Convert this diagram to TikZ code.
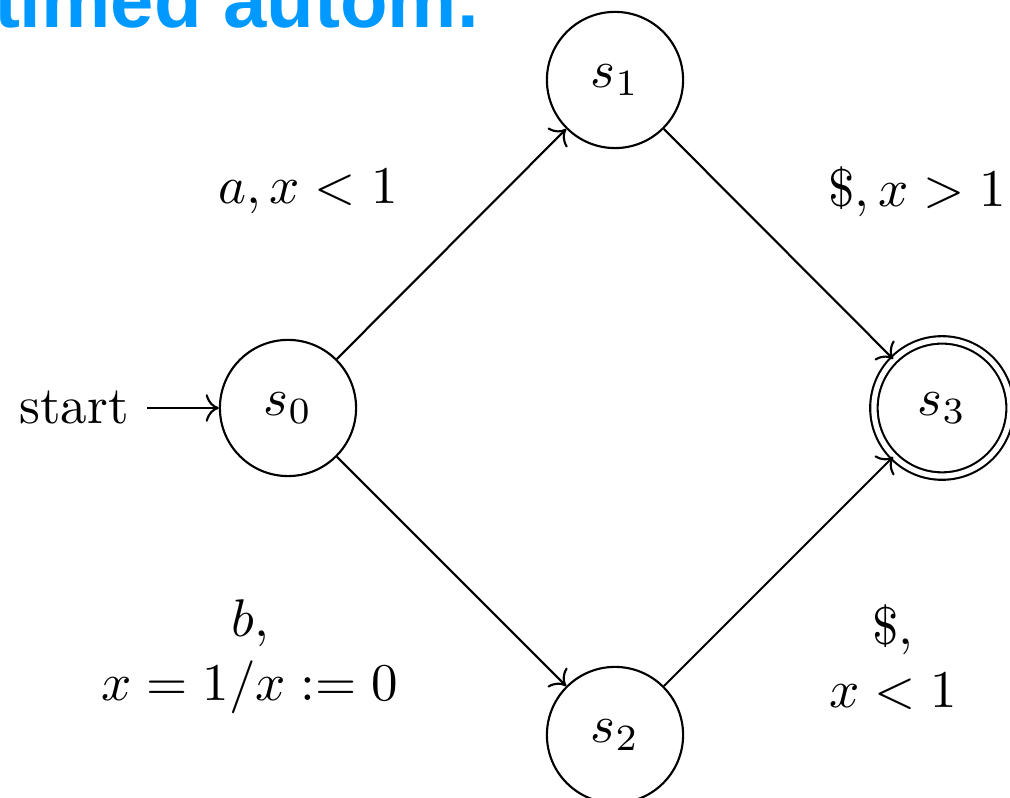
\documentclass[tikz,border=0pt]{standalone}
\usepackage{amssymb,amsmath}
\usepackage{xcolor}
\usepackage{fontspec}
\newfontfamily\titlefont{Liberation Sans}
\usepackage{tikz}
\usetikzlibrary{arrows.meta}
\definecolor{titleblue}{RGB}{0,153,255}
\tikzset{
  statenode/.style={circle, draw, line width=0.4pt, minimum size=25.7pt, inner sep=0pt},
  finalnode/.style={statenode, double, double distance=1pt},
  guard/.style={align=center, inner sep=0pt},
}
\begin{document}
\begin{tikzpicture}[x=0.1887pt, y=-0.1887pt, >=To]
    \useasboundingbox (0,0) rectangle (1010,798);
    % Title
    \node[anchor=base west, inner sep=0pt, text=titleblue, font=\titlefont\bfseries\fontsize{14.7}{16}\selectfont] (title) at (-7,28) {timed autom.};
    % States
    \node[statenode] (s0) at (288,408) {$s_0$};
    \node[statenode] (s1) at (615,80) {$s_1$};
    \node[statenode] (s2) at (615,735) {$s_2$};
    \node[finalnode] (s3) at (942,408) {$s_3$};
    \node (start) at (74,408) {start};
    % Transitions
    \draw[->] (start) -- (s0);
    \draw[->] (s0) -- (s1);
    \draw[->] (s0) -- (s2);
    \draw[->] (s1) -- (s3);
    \draw[->] (s2) -- (s3);
    % Guards
    \node[guard] (l01) at (308,192) {$a, x < 1$};
    \node[guard] (l13) at (917,192) {$\$, x > 1$};
    \node[guard] (l02) at (250,657) {$b,$\\$x = 1/x := 0$};
    \node[guard] (l23) at (893,657) {$\$,$\\$x < 1$};
\end{tikzpicture}
\end{document}
